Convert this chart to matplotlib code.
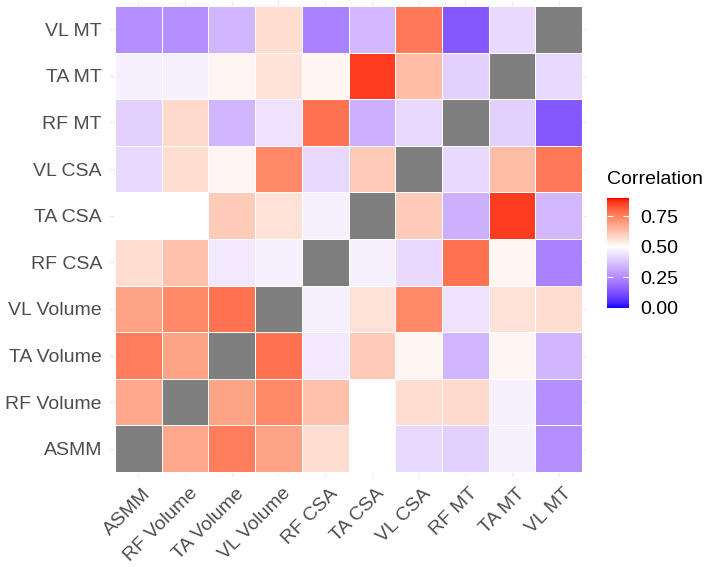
import numpy as np
import matplotlib
matplotlib.use("Agg")
import matplotlib.pyplot as plt
from matplotlib.colors import ListedColormap, TwoSlopeNorm
from matplotlib.transforms import ScaledTranslation

# variables, bottom row / left column first
labels = ["ASMM", "RF Volume", "TA Volume", "VL Volume", "RF CSA",
          "TA CSA", "VL CSA", "RF MT", "TA MT", "VL MT"]

nan = np.nan
row_asmm = [nan, .68, .76, .69, .57, .50, .42, .40, .47, .26]
row_rfv = [.68, nan, .69, .74, .63, .50, .57, .58, .47, .26]
row_tav = [.76, .69, nan, .78, .45, .61, .52, .34, .52, .34]
row_vlv = [.69, .74, .78, nan, .47, .56, .74, .44, .56, .57]
row_rfc = [.57, .63, .45, .47, nan, .47, .42, .78, .52, .23]
row_tac = [.50, .50, .61, .56, .47, nan, .61, .33, .86, .35]
row_vlc = [.42, .57, .52, .74, .42, .61, nan, .42, .64, .77]
row_rfm = [.40, .58, .34, .44, .78, .33, .42, nan, .40, .14]
row_tam = [.47, .47, .52, .56, .52, .86, .64, .40, nan, .42]
row_vlm = [.26, .26, .34, .57, .23, .35, .77, .14, .42, nan]

corr = np.array([row_asmm, row_rfv, row_tav, row_vlv, row_rfc,
                 row_tac, row_vlc, row_rfm, row_tam, row_vlm])

legend_ticks = [0.0, 0.25, 0.5, 0.75]
lim_lo, lim_hi, mid = 0.0, 0.9, 0.5


# blue - white - red gradient interpolated in Lab
def to_lab(rgb):
    c = np.asarray(rgb, float)
    lin = np.where(c > 0.04045, ((c + 0.055) / 1.055) ** 2.4, c / 12.92)
    m = np.array([[0.4124, 0.3576, 0.1805],
                  [0.2126, 0.7152, 0.0722],
                  [0.0193, 0.1192, 0.9505]])
    xyz = m @ lin / np.array([0.95047, 1.0, 1.08883])
    f = np.where(xyz > 0.008856, np.cbrt(xyz), 7.787 * xyz + 16 / 116)
    return np.array([116 * f[1] - 16, 500 * (f[0] - f[1]), 200 * (f[1] - f[2])])


def from_lab(lab):
    L, a, b = lab
    fy = (L + 16) / 116
    f = np.array([fy + a / 500, fy, fy - b / 200])
    xyz = np.where(f ** 3 > 0.008856, f ** 3, (f - 16 / 116) / 7.787)
    xyz = xyz * np.array([0.95047, 1.0, 1.08883])
    m = np.array([[3.2406, -1.5372, -0.4986],
                  [-0.9689, 1.8758, 0.0415],
                  [0.0557, -0.2040, 1.0570]])
    lin = np.clip(m @ xyz, 0, 1)
    c = np.where(lin > 0.0031308, 1.055 * lin ** (1 / 2.4) - 0.055, 12.92 * lin)
    return np.clip(c, 0, 1)


blue, white, red = to_lab([0, 0, 1]), to_lab([1, 1, 1]), to_lab([1, 0, 0])
cols = []
for t in np.linspace(0, 1, 256):
    if t < 0.5:
        cols.append(from_lab(blue + (white - blue) * (t / 0.5)))
    else:
        cols.append(from_lab(white + (red - white) * ((t - 0.5) / 0.5)))
cmap = ListedColormap(cols)
cmap.set_bad("#7F7F7F")
norm = TwoSlopeNorm(vcenter=mid, vmin=lim_lo, vmax=lim_hi)

fig = plt.figure(figsize=(7.09, 5.67), dpi=100)
ax = fig.add_axes([110.3 / 709, (567 - 476.7) / 567, 476.4 / 709, 475.4 / 567])

n = len(labels)
ax.pcolormesh(np.arange(n + 1) - 0.5, np.arange(n + 1) - 0.5,
              np.ma.masked_invalid(corr), cmap=cmap, norm=norm,
              edgecolors="#FFFFFF", linewidth=0.4, zorder=2)
ax.set_xlim(-0.6, n - 0.4)
ax.set_ylim(-0.6, n - 0.4)
ax.set_xticks(range(n))
ax.set_yticks(range(n))
ax.set_xticklabels(labels, rotation=45, ha="right", va="top",
                   rotation_mode="anchor", fontsize=14, color="#4D4D4D",
                   family="Liberation Sans")
ax.set_yticklabels(labels, fontsize=14, color="#4D4D4D",
                   family="Liberation Sans")
ax.tick_params(length=0, pad=6)
shift = ScaledTranslation(0.04, 0, fig.dpi_scale_trans)
for lab in ax.get_xticklabels():
    lab.set_transform(lab.get_transform() + shift)
ax.grid(True, color="#EBEBEB", linewidth=0.8, zorder=0)
ax.set_axisbelow(True)
for s in ax.spines.values():
    s.set_visible(False)

# colour bar legend
cax = fig.add_axes([607 / 709, (567 - 308) / 567, 22 / 709, 110 / 567])
grad = np.linspace(lim_lo, lim_hi, 300)[:, None]
cax.imshow(grad, origin="lower", aspect="auto", cmap=cmap, norm=norm,
           extent=[0, 1, lim_lo, lim_hi])
cax.set_xticks([])
cax.set_yticks(legend_ticks)
cax.set_yticklabels([f"{v:.2f}" for v in legend_ticks])
cax.yaxis.tick_right()
cax.tick_params(axis="y", direction="in", color="white", length=4,
                width=0.8, left=True, right=True, labelsize=14, pad=8)
for lab in cax.get_yticklabels():
    lab.set_family("Liberation Sans")
for s in cax.spines.values():
    s.set_visible(False)
fig.text(607 / 709, 1 - 180 / 567, "Correlation", fontsize=14,
         family="Liberation Sans", va="center", ha="left")

fig.savefig("out.png", dpi=100)
